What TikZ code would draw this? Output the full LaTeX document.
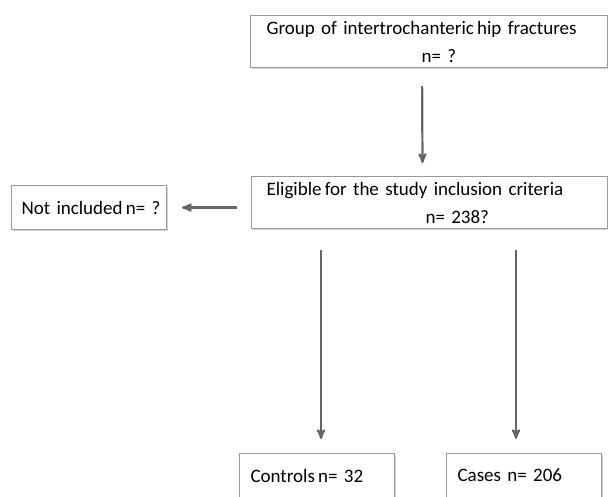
\documentclass[tikz,border=0pt]{standalone}
\usepackage{fontspec}
\setmainfont{Carlito}
\usepackage{tikz}
\usetikzlibrary{arrows,positioning,shadows}

\begin{document}
\begin{tikzpicture}[>=stealth',x=1pt,y=1pt]
	\tikzstyle{box}=[draw=black!40,line width=1.1pt,fill=white,anchor=north west,
	                 align=left,inner xsep=11pt,inner ysep=3pt,
	                 font=\fontsize{19}{28}\selectfont,
	                 drop shadow={shadow xshift=1.2pt,shadow yshift=-1.5pt,opacity=0.35}]
	\tikzstyle{arr}=[->,draw=black!60,line width=2.2pt]

	\useasboundingbox (0,0) rectangle (608,-496);

	\node[box,inner xsep=16pt,text width=325pt,minimum height=52pt] (group) at (250,-15)
		{Group of intertrochanteric\,hip fractures\\\hspace*{155pt}n=~?};
	\node[box,inner xsep=15pt,text width=326pt,minimum height=52pt] (elig) at (251,-176)
		{Eligible\,for the study inclusion criteria\\\hspace*{159pt}n=~238?};
	\node[box,inner xsep=6pt,text width=143pt,minimum height=44pt] (notinc) at (11,-185)
		{\hspace*{4pt}Not included\,n=~?};
	\node[box,text width=133pt,minimum height=44pt] (controls) at (239,-453)
		{Controls\,n=~32};
	\node[box,text width=133pt,minimum height=44pt] (cases) at (446,-453)
		{Cases n=~206};

	\draw[arr,shorten <=18pt,shorten >=13pt]
		([xshift=-7pt]group.south) -- ([xshift=-7pt]elig.north);
	\draw[arr,shorten <=14pt,shorten >=15pt]
		(elig.west |- notinc.east) -- (notinc.east);
	\draw[arr,shorten <=21pt,shorten >=14pt]
		([xshift=4pt]controls.north |- elig.south) -- ([xshift=4pt]controls.north);
	\draw[arr,shorten <=21pt,shorten >=14pt]
		([xshift=-8pt]cases.north |- elig.south) -- ([xshift=-8pt]cases.north);
\end{tikzpicture}
\end{document}
